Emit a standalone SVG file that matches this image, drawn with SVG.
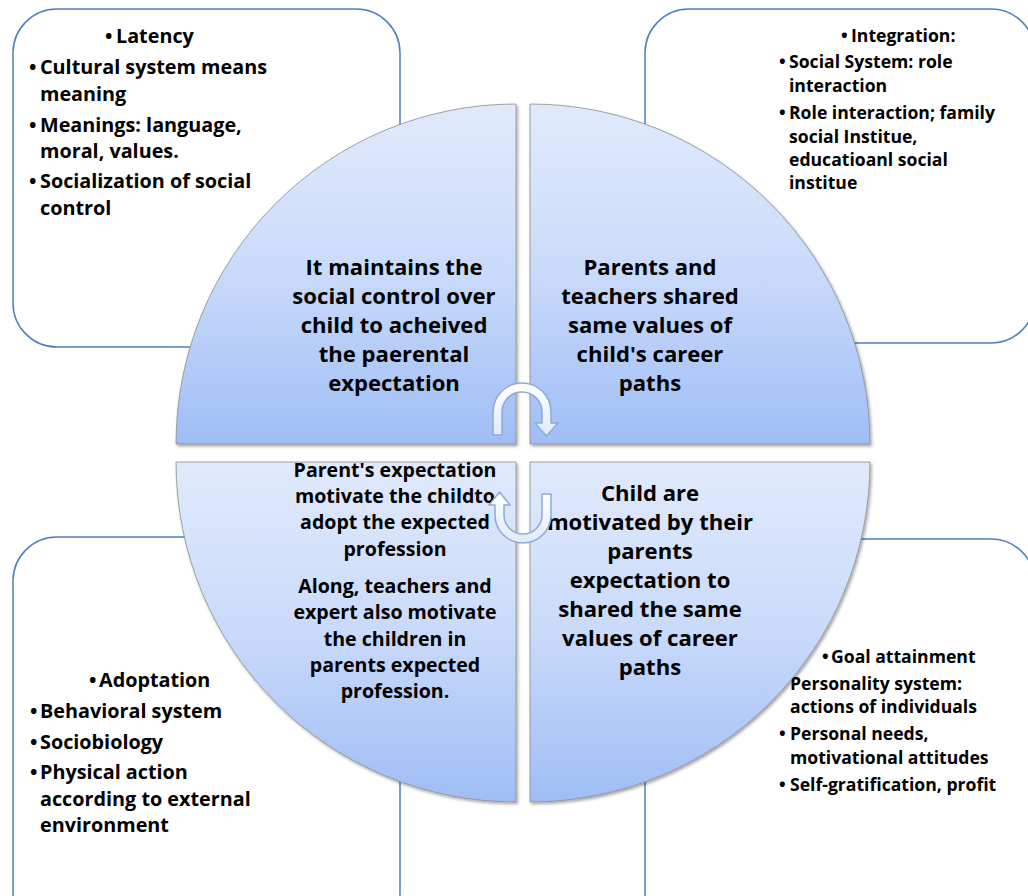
<svg xmlns="http://www.w3.org/2000/svg" width="1028" height="896" viewBox="0 0 1028 896">
  <defs>
    <style>
      .box { fill: #ffffff; stroke: #4f81bd; stroke-width: 1.5; }
      .quad { stroke: #8c8c8c; stroke-width: 0.8; filter: url(#shadow); }
      .qtxt { font-family: "Open Sans", Lato, sans-serif; font-weight: bold; font-size: 22.1px; fill: #000; text-anchor: middle; }
      .qtxt-s { font-family: "Open Sans", Lato, sans-serif; font-weight: bold; font-size: 19.6px; fill: #000; text-anchor: middle; }
      .btxt { font-family: "Open Sans", Lato, sans-serif; font-weight: bold; font-size: 19.8px; fill: #000; }
      .btxt-s { font-family: "Open Sans", Lato, sans-serif; font-weight: bold; font-size: 17.6px; fill: #000; }
      .cyc { fill: url(#arrowFill); stroke: #8fa9d6; stroke-width: 1.5; stroke-linejoin: round; }
    </style>
    <linearGradient id="quadFill" x1="0" y1="0" x2="0" y2="1">
      <stop offset="0" stop-color="#e1eafc"/>
      <stop offset="0.5" stop-color="#c9dafa"/>
      <stop offset="1" stop-color="#9fbdf5"/>
    </linearGradient>
    <linearGradient id="arrowFill" x1="0" y1="0" x2="0" y2="1">
      <stop offset="0" stop-color="#ffffff"/>
      <stop offset="1" stop-color="#e2eafa"/>
    </linearGradient>
    <filter id="shadow" x="-10%" y="-10%" width="125%" height="125%">
      <feDropShadow dx="1.5" dy="2" stdDeviation="1.5" flood-color="#000" flood-opacity="0.35"/>
    </filter>
  </defs>

  <rect width="1028" height="896" fill="#ffffff"/>

  <!-- corner boxes -->
  <g id="box-latency">
    <rect class="box" x="13" y="9" width="387" height="338" rx="44" ry="44"/>
    <text class="btxt" x="105" y="43">•</text><text class="btxt" x="116" y="43">Latency</text>
    <text class="btxt" x="29" y="74">•</text><text class="btxt" x="40" y="74">Cultural system means</text>
    <text class="btxt" x="40" y="101">meaning</text>
    <text class="btxt" x="29" y="132">•</text><text class="btxt" x="40" y="132">Meanings: language,</text>
    <text class="btxt" x="40" y="158">moral, values.</text>
    <text class="btxt" x="29" y="188">•</text><text class="btxt" x="40" y="188">Socialization of social</text>
    <text class="btxt" x="40" y="215">control</text>
  </g>

  <g id="box-integration">
    <rect class="box" x="645" y="9" width="390" height="334" rx="44" ry="44"/>
    <text class="btxt-s" x="841" y="42">•</text><text class="btxt-s" x="851" y="42">Integration:</text>
    <text class="btxt-s" x="779" y="68">•</text><text class="btxt-s" x="789" y="68">Social System: role</text>
    <text class="btxt-s" x="789" y="92">interaction</text>
    <text class="btxt-s" x="779" y="119">•</text><text class="btxt-s" x="789" y="119">Role interaction; family</text>
    <text class="btxt-s" x="789" y="143">social Institue,</text>
    <text class="btxt-s" x="789" y="166">educatioanl social</text>
    <text class="btxt-s" x="789" y="189">institue</text>
  </g>

  <g id="box-adoptation">
    <rect class="box" x="13" y="537" width="387" height="400" rx="44" ry="44"/>
    <text class="btxt" x="89" y="687">•</text><text class="btxt" x="99" y="687">Adoptation</text>
    <text class="btxt" x="30" y="718">•</text><text class="btxt" x="40" y="718">Behavioral system</text>
    <text class="btxt" x="30" y="749">•</text><text class="btxt" x="40" y="749">Sociobiology</text>
    <text class="btxt" x="30" y="779">•</text><text class="btxt" x="40" y="779">Physical action</text>
    <text class="btxt" x="40" y="806">according to external</text>
    <text class="btxt" x="40" y="832">environment</text>
  </g>

  <g id="box-goal">
    <rect class="box" x="645" y="539" width="390" height="400" rx="44" ry="44"/>
    <text class="btxt-s" x="822" y="663">•</text><text class="btxt-s" x="831" y="663">Goal attainment</text>
    <text class="btxt-s" x="790" y="690">Personality system:</text>
    <text class="btxt-s" x="790" y="713">actions of individuals</text>
    <text class="btxt-s" x="779" y="740">•</text><text class="btxt-s" x="790" y="740">Personal needs,</text>
    <text class="btxt-s" x="790" y="764">motivational attitudes</text>
    <text class="btxt-s" x="779" y="791">•</text><text class="btxt-s" x="790" y="791">Self-gratification, profit</text>
  </g>

  <!-- circle quadrants -->
  <g id="quad-top-left">
    <path class="quad" fill="url(#quadFill)" d="M516,444 L176,444 A340,340 0 0 1 516,104 Z"/>
    <text class="qtxt" x="394" y="275">It maintains the</text>
    <text class="qtxt" x="394" y="304">social control over</text>
    <text class="qtxt" x="394" y="333">child to acheived</text>
    <text class="qtxt" x="394" y="362">the paerental</text>
    <text class="qtxt" x="394" y="391">expectation</text>
  </g>

  <g id="quad-top-right">
    <path class="quad" fill="url(#quadFill)" d="M530,444 L530,104 A340,340 0 0 1 870,444 Z"/>
    <text class="qtxt" x="650" y="275">Parents and</text>
    <text class="qtxt" x="650" y="304">teachers shared</text>
    <text class="qtxt" x="650" y="333">same values of</text>
    <text class="qtxt" x="650" y="362">child's career</text>
    <text class="qtxt" x="650" y="391">paths</text>
  </g>

  <g id="quad-bottom-left">
    <path class="quad" fill="url(#quadFill)" d="M516,462 L516,802 A340,340 0 0 1 176,462 Z"/>
    <text class="qtxt-s" x="395" y="477">Parent's expectation</text>
    <text class="qtxt-s" x="395" y="503">motivate the childto</text>
    <text class="qtxt-s" x="395" y="529">adopt the expected</text>
    <text class="qtxt-s" x="395" y="556">profession</text>
    <text class="qtxt-s" x="395" y="593">Along, teachers and</text>
    <text class="qtxt-s" x="395" y="619">expert also motivate</text>
    <text class="qtxt-s" x="395" y="646">the children in</text>
    <text class="qtxt-s" x="395" y="672">parents expected</text>
    <text class="qtxt-s" x="395" y="698">profession.</text>
  </g>

  <g id="quad-bottom-right">
    <path class="quad" fill="url(#quadFill)" d="M530,462 L870,462 A340,340 0 0 1 530,802 Z"/>
    <text class="qtxt" x="650" y="501">Child are</text>
    <text class="qtxt" x="650" y="530">motivated by their</text>
    <text class="qtxt" x="650" y="559">parents</text>
    <text class="qtxt" x="650" y="588">expectation to</text>
    <text class="qtxt" x="650" y="617">shared the same</text>
    <text class="qtxt" x="650" y="646">values of career</text>
    <text class="qtxt" x="650" y="675">paths</text>
  </g>

  <!-- cycle arrows in the centre -->
  <g id="connectors">
    <path class="cyc" d="M493,435 L493,412 A29,29 0 0 1 551,412 L551,423 L558,423 L546.5,436 L535,423 L542,423 L542,412 A20,20 0 0 0 502,412 L502,435 Z"/>
    <path class="cyc" d="M551,494 L551,515 A28,28 0 0 1 495,515 L495,505 L489,505 L499.5,492 L510,505 L504,505 L504,515 A19,19 0 0 0 542,515 L542,494 Z"/>
  </g>
</svg>
